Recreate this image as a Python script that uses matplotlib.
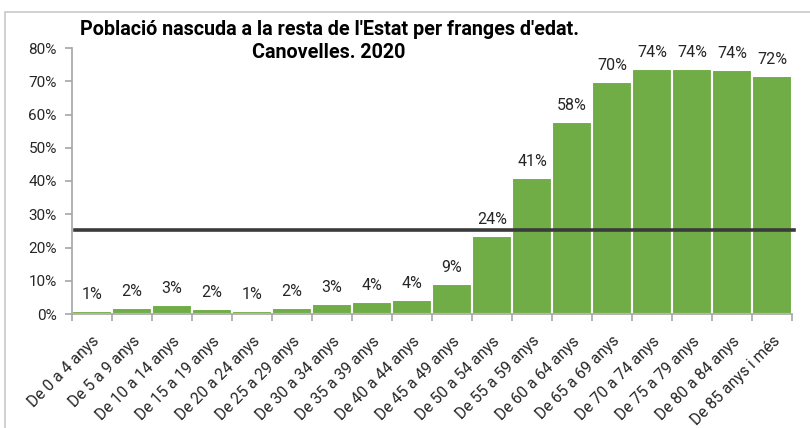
import numpy as np
import matplotlib
matplotlib.use("Agg")
import matplotlib.pyplot as plt
import matplotlib.transforms as mtransforms
from matplotlib.patches import Rectangle

plt.rcParams["font.family"] = ["Roboto", "DejaVu Sans"]

# data
age_groups = [
    "De 0 a 4 anys", "De 5 a 9 anys", "De 10 a 14 anys", "De 15 a 19 anys",
    "De 20 a 24 anys", "De 25 a 29 anys", "De 30 a 34 anys", "De 35 a 39 anys",
    "De 40 a 44 anys", "De 45 a 49 anys", "De 50 a 54 anys", "De 55 a 59 anys",
    "De 60 a 64 anys", "De 65 a 69 anys", "De 70 a 74 anys", "De 75 a 79 anys",
    "De 80 a 84 anys", "De 85 anys i més",
]
pct_rest_estat = [0.9, 1.8, 2.6, 1.6, 0.9, 1.8, 3.0, 3.6, 4.3, 9.1, 23.6, 40.8,
                  57.6, 69.8, 73.6, 73.6, 73.5, 71.5]
ref_total = 25.3
title = "Població nascuda a la resta de l'Estat per franges d'edat.\nCanovelles. 2020"

bar_color = "#70AD47"
axis_gray = "#a6a6a6"
text_col = "#262626"

fig = plt.figure(figsize=(8.1, 4.28), dpi=100)
ax = fig.add_axes([72 / 810, 114 / 428, 720 / 810, 266 / 428])

# outer frame like the spreadsheet chart area
fig.patches.append(Rectangle((5 / 810, -0.1), 1.0, 1.1 - 12 / 428,
                             transform=fig.transFigure, fill=False,
                             edgecolor="#c8c8c8", linewidth=1.2))

x = np.arange(len(age_groups))
ax.bar(x, pct_rest_estat, width=1.0, color=bar_color, edgecolor="white",
       linewidth=1.5, zorder=2)

for xi, v in zip(x, pct_rest_estat):
    ax.annotate(f"{v:.0f}%", (xi, v), xytext=(0, 6.5), textcoords="offset points",
                ha="center", va="bottom", fontsize=11.5, color=text_col)

ax.axhline(ref_total, xmin=0.004, xmax=1.003, color="#3a3a3a", linewidth=2.6,
           clip_on=False, zorder=3)

ax.set_xlim(-0.5, len(age_groups) - 0.5)
ax.set_ylim(0, 80)
ax.set_yticks(np.arange(0, 81, 10))
ax.set_yticklabels([f"{t}%" for t in range(0, 81, 10)], fontsize=11, color=text_col)

ax.set_xticks(x)
ax.set_xticklabels(age_groups, rotation=45, ha="right", rotation_mode="anchor",
                   fontsize=11.3, color=text_col)
shift = mtransforms.ScaledTranslation(6 / 100, 0, fig.dpi_scale_trans)
for lbl in ax.get_xticklabels():
    lbl.set_transform(lbl.get_transform() + shift)
ax.set_xticks(np.arange(-0.5, len(age_groups), 1.0), minor=True)
ax.tick_params(axis="x", which="major", length=0, pad=14)
ax.tick_params(axis="x", which="minor", length=5, color=axis_gray, width=1.2)
ax.tick_params(axis="y", length=5, color=axis_gray, width=1.2, pad=6)

for side in ["top", "right"]:
    ax.spines[side].set_visible(False)
for side in ["left", "bottom"]:
    ax.spines[side].set_color(axis_gray)
    ax.spines[side].set_linewidth(1.2)

fig.text(329 / 810, 1 - 20 / 428, title, ha="center", va="top",
         fontsize=14.2, fontweight="bold", color="black", linespacing=1.25)

fig.savefig("out.png", dpi=100)
